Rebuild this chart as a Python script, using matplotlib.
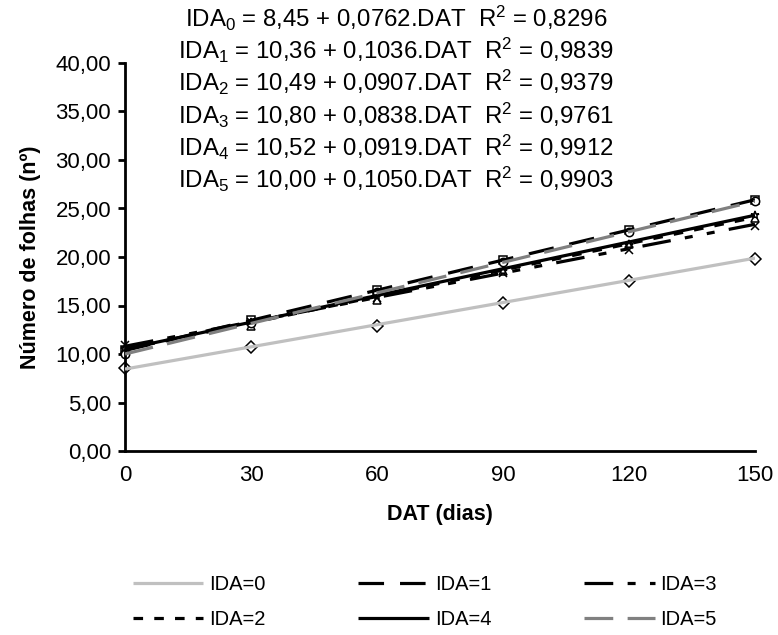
import numpy as np
import matplotlib
matplotlib.use("Agg")
import matplotlib.pyplot as plt

plt.rcParams['font.family'] = ['Liberation Sans', 'DejaVu Sans']
plt.rcParams['mathtext.default'] = 'regular'

# DAT (dias)
dat = [0, 30, 60, 90, 120, 150]

# observed number of leaves for each IDA
ida0 = [8.6, 10.7, 12.9, 15.3, 17.5, 19.8]
ida1 = [10.4, 13.5, 16.6, 19.7, 22.8, 25.9]
ida2 = [10.5, 12.9, 15.6, 18.6, 21.3, 24.0]
ida3 = [10.9, 13.3, 15.8, 18.3, 20.7, 23.2]
ida4 = [10.6, 13.3, 16.0, 18.6, 21.2, 24.3]
ida5 = [10.0, 13.2, 16.4, 19.5, 22.6, 25.8]

# regression coefficients shown on the chart
intercepts = [8.45, 10.36, 10.49, 10.80, 10.52, 10.00]
slopes = [0.0762, 0.1036, 0.0907, 0.0838, 0.0919, 0.1050]
r2 = ["0,8296", "0,9839", "0,9379", "0,9761", "0,9912", "0,9903"]

series = [ida0, ida1, ida2, ida3, ida4, ida5]
labels = ["IDA=0", "IDA=1", "IDA=2", "IDA=3", "IDA=4", "IDA=5"]
colors = ["#c0c0c0", "black", "black", "black", "black", "#808080"]
dashes = [None, (8, 5), (3, 3.5), (9, 4.5, 2.5, 4.5, 2.5, 4.5), None, (9, 4.5)]
markers = ["D", "s", "^", "x", "*", "o"]

fig = plt.figure(figsize=(7.78, 6.35), dpi=100)
ax = fig.add_axes([125 / 778, 1 - 451 / 635, 630 / 778, 388 / 635])

x = np.array(dat)
lines = []
for i in range(6):
    fit = intercepts[i] + slopes[i] * x
    ln, = ax.plot(x, fit, color=colors[i], lw=2.3, label=labels[i],
                  solid_capstyle='butt', dash_capstyle='butt', zorder=3)
    if dashes[i] is not None:
        ln.set_dashes(dashes[i])
    lines.append(ln)
    ax.plot(dat, series[i], linestyle='none', marker=markers[i], ms=6,
            mfc='white', mec='black', mew=1.1, zorder=2, clip_on=False)

ax.set_xlim(0, 150)
ax.set_ylim(0, 40)
ax.set_xticks(dat)
yt = np.arange(0, 41, 5)
ax.set_yticks(yt)
ax.set_yticklabels([("%.2f" % v).replace('.', ',') for v in yt])
for s in ['top', 'right']:
    ax.spines[s].set_visible(False)
for s in ['left', 'bottom']:
    ax.spines[s].set_linewidth(2)
ax.tick_params(axis='y', direction='out', length=5, width=2, labelsize=16, pad=5)
ax.tick_params(axis='x', direction='out', length=0, width=2, labelsize=16, pad=10)

ax.set_xlabel("DAT (dias)", fontsize=15.5, fontweight='bold', labelpad=13)
ax.set_ylabel("Número de folhas (nº)", fontsize=15.5, fontweight='bold', labelpad=10)

# equations
ypos = [18, 50, 82, 115, 147, 179]
for i in range(6):
    inter = ("%.2f" % intercepts[i]).replace('.', ',')
    slope = ("%.4f" % slopes[i]).replace('.', ',')
    txt = "IDA$_{%d}$ = %s + %s.DAT  R$^{2}$ = %s" % (i, inter, slope, r2[i])
    fig.text(396 / 778, 1 - ypos[i] / 635, txt, ha='center', va='center', fontsize=17.3)

order = [0, 2, 1, 4, 3, 5]
leg = fig.legend([lines[k] for k in order], [labels[k] for k in order],
                 loc='center', bbox_to_anchor=(425 / 778, 1 - 602 / 635), ncol=3,
                 frameon=False, fontsize=14.5, handlelength=3.5, handletextpad=0.3,
                 columnspacing=4.6, labelspacing=0.75)

fig.savefig("out.png", dpi=100)
